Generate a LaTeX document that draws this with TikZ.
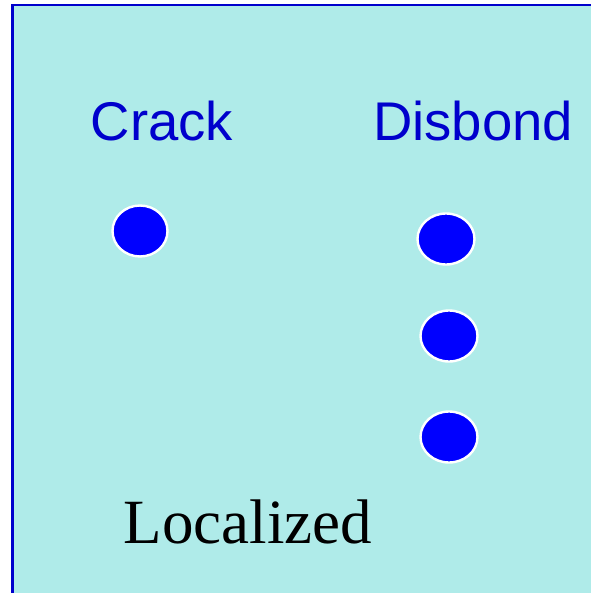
\documentclass[tikz,border=0pt]{standalone}
\usepackage{fontspec}
\setmainfont{Liberation Serif}
\newfontfamily\labelfont{Liberation Sans}
\usetikzlibrary{shapes.geometric}
\definecolor{panelfill}{RGB}{175,235,233}
\definecolor{panelblue}{RGB}{0,0,204}
\definecolor{dotblue}{RGB}{0,0,255}
\tikzset{
  heading/.style={text=panelblue, font=\labelfont\fontsize{54.5}{60}\selectfont, inner sep=0pt, anchor=base},
  caption/.style={text=black, font=\fontsize{63}{70}\selectfont, inner sep=0pt, anchor=base},
  spot/.style={ellipse, fill=dotblue, draw=white, line width=2.4pt, minimum width=55pt, minimum height=51pt, inner sep=0pt},
}
\begin{document}
\begin{tikzpicture}[x=1pt, y=-1pt]
  \useasboundingbox (0,0) rectangle (590,593);
  % panel, running off the right and bottom edges
  \draw[panelblue, line width=2.6pt, fill=panelfill] (12.3,5) rectangle (640,640);
  % column headings
  \node[heading] (crack) at (162,141) {Crack};
  \node[heading] (disbond) at (473,141) {Disbond};
  % markers
  \node[spot] (c1) at (140,231) {};
  \node[spot, minimum width=57pt] (d1) at (446,239) {};
  \node[spot, minimum width=57pt] (d2) at (449,336) {};
  \node[spot, minimum width=57pt] (d3) at (449,437) {};
  % caption
  \node[caption] (loc) at (248,543) {Localized};
\end{tikzpicture}
\end{document}
